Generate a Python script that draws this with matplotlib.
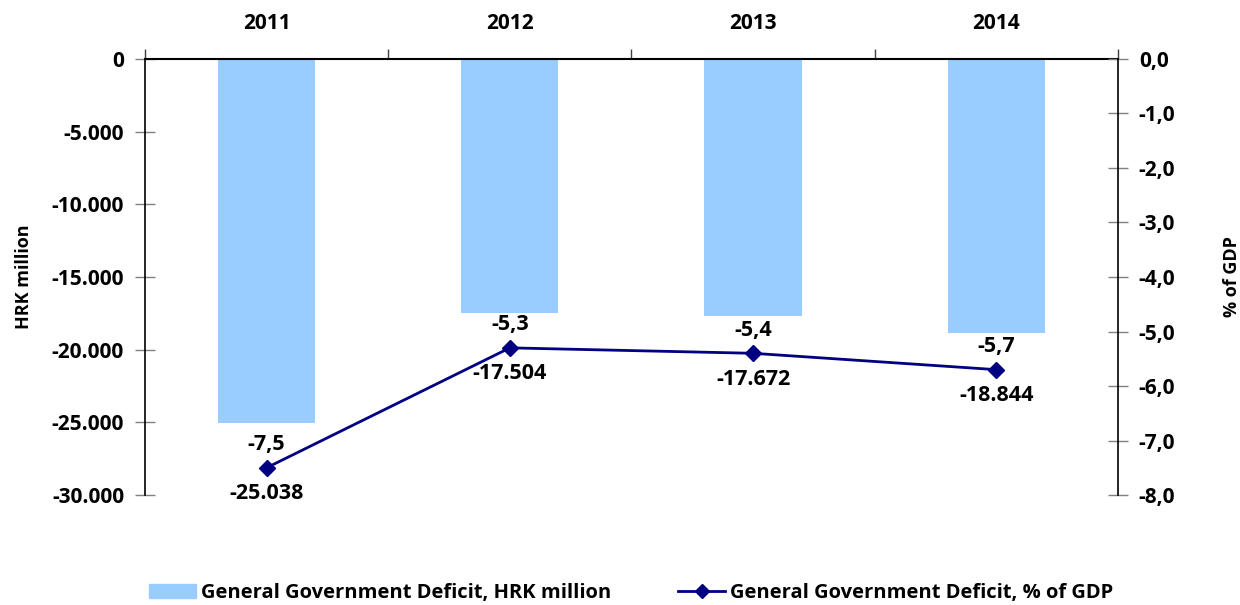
import numpy as np
from matplotlib import pyplot as plt
from matplotlib.lines import Line2D
from matplotlib.patches import Patch

years = ["2011", "2012", "2013", "2014"]
deficit_hrk = [-25038, -17504, -17672, -18844]
deficit_gdp = [-7.5, -5.3, -5.4, -5.7]
hrk_labels = ["-25.038", "-17.504", "-17.672", "-18.844"]
gdp_labels = ["-7,5", "-5,3", "-5,4", "-5,7"]

plt.rcParams['font.family'] = ['Open Sans', 'DejaVu Sans']
plt.rcParams['font.weight'] = 'bold'

bar_color = "#99CCFF"
line_color = "#000080"

fig = plt.figure(figsize=(12.4, 6.05), dpi=100)
ax = fig.add_axes([0.1169, 0.1818, 0.7847, 0.7207])
x = np.arange(len(years))

ax.bar(x, deficit_hrk, width=0.4, color=bar_color, zorder=2)
ax.set_xlim(-0.5, len(years) - 0.5)
ax.set_ylim(-30000, 0)
ax.set_yticks(np.arange(-30000, 1, 5000))
ax.set_yticklabels([f"{v:,}".replace(",", ".") for v in range(-30000, 1, 5000)])
ax.tick_params(axis='y', direction='inout', length=14, width=1, color='#808080',
               labelsize=15, pad=8)
ax.set_ylabel("HRK million", fontsize=13, fontweight='bold', va='center')
ax.yaxis.set_label_coords(-0.124, 0.5)

# category axis sits on the zero line at the top
ax.xaxis.set_ticks_position('top')
ax.set_xticks(x)
ax.set_xticklabels(years, fontsize=15, fontweight='bold')
ax.tick_params(axis='x', which='major', length=0, pad=18)
ax.set_xticks(np.arange(-0.5, len(years)), minor=True)
ax.tick_params(axis='x', which='minor', direction='out', length=7,
               color='#404040', width=1)

ax.spines['bottom'].set_visible(False)
ax.spines['right'].set_visible(False)
ax.spines['top'].set_linewidth(1.5)
ax.spines['left'].set_linewidth(1.2)

ax2 = ax.twinx()
ax2.plot(x, deficit_gdp, color=line_color, linewidth=2, marker='D',
         markersize=8, zorder=3)
ax2.set_ylim(-8, 0)
ax2.set_yticks(np.arange(-8, 0.1, 1))
ax2.set_yticklabels([f"{v:.1f}".replace(".", ",") for v in np.arange(-8, 0.1, 1)])
ax2.tick_params(axis='y', direction='inout', length=14, width=1, color='#808080',
                labelsize=15, pad=8)
ax2.set_ylabel("% of GDP", fontsize=13, fontweight='bold', va='center')
ax2.yaxis.set_label_coords(1.117, 0.5)
for side in ['top', 'bottom', 'left']:
    ax2.spines[side].set_visible(False)
ax2.spines['right'].set_linewidth(1.2)

for xi, yi, top, bottom in zip(x, deficit_gdp, gdp_labels, hrk_labels):
    ax2.annotate(top, (xi, yi), xytext=(0, 9), textcoords='offset points',
                 ha='center', va='bottom', fontsize=15.5, fontweight='bold')
    ax2.annotate(bottom, (xi, yi), xytext=(0, -11), textcoords='offset points',
                 ha='center', va='top', fontsize=15.5, fontweight='bold')

handles = [Patch(color=bar_color),
           Line2D([0], [0], color=line_color, linewidth=2, marker='D', markersize=7)]
fig.legend(handles, ["General Government Deficit, HRK million",
                     "General Government Deficit, % of GDP"],
           loc='lower center', bbox_to_anchor=(0.509, -0.027), ncol=2, frameon=False,
           fontsize=14.5, handlelength=2.35, columnspacing=3.3, handletextpad=0.25)

fig.savefig("out.png", dpi=100)
